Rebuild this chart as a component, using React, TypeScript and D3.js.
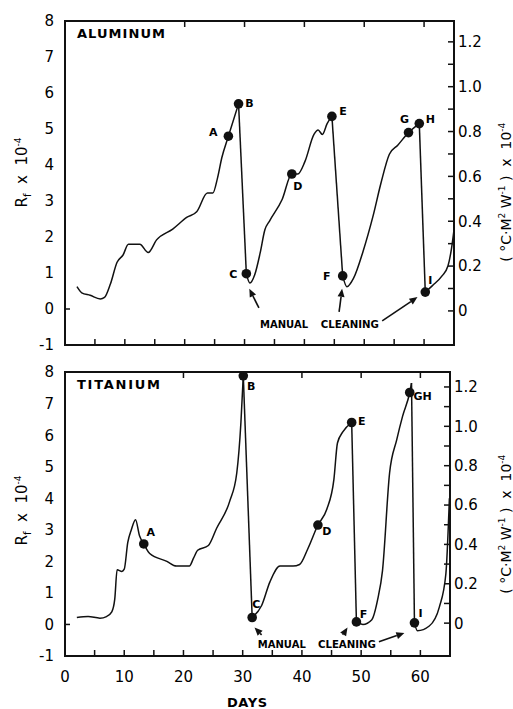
import React from "react";
import * as d3 from "d3";

// aluminum run (days, Rf x 1e-4)
const alDays = [2.0, 2.8, 4.2, 5.9, 6.6, 7.6, 8.7, 9.7, 10.6, 12.5, 13.9, 15.3, 18.0, 20.4, 22.0, 23.8, 24.7, 25.5, 26.2, 27.3, 29.0,
  30.3, 30.9, 31.7, 32.6, 33.4, 34.2, 36.3, 37.9, 38.9, 40.1, 41.6, 42.3, 43.0, 43.8, 44.6,
  46.4, 47.1, 48.2, 49.8, 51.5, 52.8, 54.2, 55.6, 57.4, 59.2,
  60.2, 61.4, 63.0, 64.0, 64.6, 65.0];
const alValues = [0.62, 0.45, 0.38, 0.28, 0.32, 0.7, 1.3, 1.5, 1.8, 1.8, 1.57, 1.92, 2.22, 2.55, 2.7, 3.22, 3.22, 3.65, 4.2, 4.8, 5.7,
  0.98, 0.72, 0.95, 1.55, 2.2, 2.45, 3.05, 3.75, 3.75, 4.1, 4.85, 4.97, 4.85, 5.15, 5.35,
  0.92, 0.62, 0.85, 1.6, 2.6, 3.5, 4.3, 4.55, 4.9, 5.15,
  0.47, 0.65, 0.92, 1.2, 1.7, 2.2];
// index of the point where a cleaning drop starts
const alDrops = [20, 35, 45];
const alMarkLabels = ["A", "B", "C", "D", "E", "F", "G", "H", "I"];
const alMarkDays = [27.3, 29.0, 30.3, 37.9, 44.6, 46.4, 57.4, 59.2, 60.2];
const alMarkValues = [4.8, 5.7, 0.98, 3.75, 5.35, 0.92, 4.9, 5.15, 0.47];

// titanium run
const tiDays = [2.0, 3.9, 5.9, 7.0, 7.9, 8.4, 8.8, 9.6, 10.0, 10.6, 11.2, 11.9, 12.6, 13.3, 14.3, 17.2, 18.8, 21.0, 21.7, 22.4, 24.2, 25.6, 27.8, 29.0, 29.7, 30.1,
  31.6, 33.2, 34.6, 36.3, 38.5, 39.6, 41.0, 42.7, 44.2, 45.4, 46.0, 46.9, 48.4,
  49.2, 50.3, 51.8, 52.8, 53.6, 54.8, 56.0, 57.0, 58.2, 58.5,
  59.0, 59.5, 61.5, 63.2, 64.3, 64.9];
const tiValues = [0.22, 0.25, 0.2, 0.25, 0.4, 0.8, 1.73, 1.68, 1.75, 2.6, 3.0, 3.32, 2.8, 2.55, 2.25, 2.0, 1.85, 1.85, 2.1, 2.35, 2.5, 3.05, 3.9, 4.8, 6.4, 7.88,
  0.22, 0.6, 1.35, 1.85, 1.85, 1.9, 2.4, 3.15, 3.65, 4.6, 5.75, 6.1, 6.4,
  0.08, 0.0, 0.15, 0.8, 1.7, 4.8, 5.85, 6.6, 7.35, 7.65,
  0.05, -0.2, -0.05, 0.55, 1.6, 4.0];
const tiDrops = [25, 38, 48];
const tiMarkLabels = ["A", "B", "C", "D", "E", "F", "GH", "I"];
const tiMarkDays = [13.3, 30.1, 31.6, 42.7, 48.4, 49.2, 58.2, 59.0];
const tiMarkValues = [2.55, 7.88, 0.22, 3.15, 6.4, 0.08, 7.35, 0.05];

// cleaning arrows [day, value]
const alArrowFrom = [[32.4, 0.03], [45.8, -0.08], [53.0, -0.33]];
const alArrowTo = [[30.8, 0.56], [46.3, 0.56], [58.9, 0.33]];
const tiArrowFrom = [[33.2, -0.33], [46.9, -0.33], [53.0, -0.55]];
const tiArrowTo = [[32.0, -0.1], [47.7, -0.1], [57.3, -0.27]];

const leftTicks = [8, 7, 6, 5, 4, 3, 2, 1, 0, -1];
const rightTickLabels = ["1.2", "1.0", "0.8", "0.6", "0.4", "0.2", "0"];
const rightMinor = d3.range(0, 13).map((i) => i / 10);
const dayTicks = [0, 10, 20, 30, 40, 50, 60];
const dayMinor = d3.range(5, 65, 5);
const dayTop = [20, 30, 40, 50, 60];

const FONT = "DejaVu Sans";
const SP = "\u00a0";

const alOffsets: Record<string, [number, number]> = {
  A: [-15, -4], B: [11, -1], C: [-13, 0], D: [6, 12], E: [11, -5],
  F: [-16, 0], G: [-4, -13], H: [11, -4], I: [5, -12],
};
const tiOffsets: Record<string, [number, number]> = {
  A: [7, -12], B: [8, 10], C: [4, -13], D: [9, 6], E: [10, -1],
  F: [7, -8], GH: [13, 4], I: [6, -10],
};

type PanelProps = {
  title: string;
  days: number[];
  values: number[];
  drops: number[];
  markLabels: string[];
  markDays: number[];
  markValues: number[];
  offsets: Record<string, [number, number]>;
  arrowFrom: number[][];
  arrowTo: number[][];
  noteValue: number;
  rightDomain: [number, number];
  box: { left: number; right: number; top: number; bottom: number };
  rightLabelY: number;
  leftLabelY: number;
  showDays: boolean;
};

const Sup = ({ t, size = 9 }: { t: string; size?: number }) => (
  <>
    <tspan dy={-6} fontSize={size}>{t}</tspan>
    <tspan dy={6}>{SP}</tspan>
  </>
);

const Panel = (p: PanelProps) => {
  const { box } = p;
  const x = d3.scaleLinear().domain([0, 65]).range([box.left, box.right]);
  const y = d3.scaleLinear().domain([-1, 8]).range([box.bottom, box.top]);
  const yr = d3.scaleLinear().domain(p.rightDomain).range([box.bottom, box.top]);

  const line = d3.line<number>()
    .x((i) => x(p.days[i]))
    .y((i) => y(p.values[i]))
    .curve(d3.curveMonotoneX);

  // split into fouling runs and straight cleaning drops
  const runs: number[][] = [];
  const straight: number[][] = [];
  let start = 0;
  p.drops.forEach((d) => {
    runs.push(d3.range(start, d + 1));
    straight.push([d, d + 1]);
    start = d + 1;
  });
  runs.push(d3.range(start, p.days.length));

  const notes = (
    <>
      <text x={x(36.6)} y={y(p.noteValue)} textAnchor="middle" fontWeight="bold" fontSize={11}
        textLength={48} lengthAdjust="spacingAndGlyphs">MANUAL</text>
      <text x={x(47.6)} y={y(p.noteValue)} textAnchor="middle" fontWeight="bold" fontSize={11}
        textLength={58} lengthAdjust="spacingAndGlyphs">CLEANING</text>
    </>
  );

  return (
    <g fontFamily={FONT}>
      {runs.map((r, i) => (
        <path key={"r" + i} d={line(r) || ""} fill="none" stroke="#111" strokeWidth={1.5} />
      ))}
      {straight.map((s, i) => (
        <line key={"s" + i} x1={x(p.days[s[0]])} y1={y(p.values[s[0]])} x2={x(p.days[s[1]])} y2={y(p.values[s[1]])}
          stroke="#111" strokeWidth={1.5} />
      ))}
      {p.markLabels.map((l, i) => {
        const cx = x(p.markDays[i]);
        const cy = y(p.markValues[i]);
        const o = p.offsets[l];
        return (
          <g key={"m" + l}>
            <circle cx={cx} cy={cy} r={4.8} fill="#111" />
            <text x={cx + o[0]} y={cy + o[1]} dy="0.35em" textAnchor="middle" fontSize={11} fontWeight="bold">{l}</text>
          </g>
        );
      })}
      {p.arrowFrom.map((f, i) => {
        const x1 = x(f[0]), y1 = y(f[1]);
        const x2 = x(p.arrowTo[i][0]), y2 = y(p.arrowTo[i][1]);
        const a = Math.atan2(y2 - y1, x2 - x1);
        const L = 8, W = 3.5;
        const bx = x2 - L * Math.cos(a), by = y2 - L * Math.sin(a);
        const pts = [
          [x2, y2],
          [bx + W * Math.sin(a), by - W * Math.cos(a)],
          [bx - W * Math.sin(a), by + W * Math.cos(a)],
        ].map((q) => q.join(",")).join(" ");
        return (
          <g key={"a" + i}>
            <line x1={x1} y1={y1} x2={bx} y2={by} stroke="#111" strokeWidth={1.6} />
            <polygon points={pts} fill="#111" />
          </g>
        );
      })}
      {notes}
      {/* frame */}
      <rect x={box.left} y={box.top} width={box.right - box.left} height={box.bottom - box.top}
        fill="none" stroke="#111" strokeWidth={2} />
      {dayMinor.map((d) => (
        <line key={"bt" + d} x1={x(d)} x2={x(d)} y1={box.bottom} y2={box.bottom - 6} stroke="#111" strokeWidth={1.5} />
      ))}
      {dayTop.map((d) => (
        <line key={"tt" + d} x1={x(d)} x2={x(d)} y1={box.top} y2={box.top + 6} stroke="#111" strokeWidth={1.5} />
      ))}
      <line x1={box.left} x2={box.left + 5} y1={y(0)} y2={y(0)} stroke="#111" strokeWidth={1.5} />
      {rightMinor.map((v) => (
        <line key={"rt" + v} x1={box.right} x2={box.right - 6} y1={yr(v)} y2={yr(v)} stroke="#111" strokeWidth={1.5} />
      ))}
      {leftTicks.map((v) => (
        <text key={"lt" + v} x={54} y={y(v)} dy="0.36em" textAnchor="end" fontSize={15}>{v}</text>
      ))}
      {rightTickLabels.map((t) => (
        <text key={"rl" + t} x={box.right + 4} y={yr(+t)} dy="0.36em" fontSize={15}>{t}</text>
      ))}
      {p.showDays && dayTicks.map((d) => (
        <text key={"dl" + d} x={x(d)} y={box.bottom + 26} textAnchor="middle" fontSize={15}>{d}</text>
      ))}
      <text x={box.left + 12} y={box.top + 17} fontSize={13} fontWeight={600} textLength={p.title === "ALUMINUM" ? 88 : 83}
        lengthAdjust="spacing">{p.title}</text>
      <text transform={`translate(27,${p.leftLabelY}) rotate(-90)`} textAnchor="middle" fontSize={15}>
        R<tspan dy={4} fontSize={10}>f</tspan><tspan dy={-4}>{SP + SP + "x" + SP + SP + "10"}</tspan><Sup t="-4" />
      </text>
      <text transform={`translate(511,${p.rightLabelY}) rotate(-90)`} textAnchor="middle" fontSize={14}>
        {"(" + SP + "°C·M"}<Sup t="2" />W<Sup t="-1" />{")" + SP + SP + "x" + SP + SP + "10"}<Sup t="-4" />
      </text>
    </g>
  );
};

export default function App() {
  return (
    <svg width={513} height={709} style={{ position: "absolute", left: 0, top: 0, background: "#fff" }}>
      <Panel title="ALUMINUM" days={alDays} values={alValues} drops={alDrops}
        markLabels={alMarkLabels} markDays={alMarkDays} markValues={alMarkValues} offsets={alOffsets}
        arrowFrom={alArrowFrom} arrowTo={alArrowTo} noteValue={-0.52}
        rightDomain={[-0.152, 1.293]} box={{ left: 65, right: 454, top: 21, bottom: 345 }}
        rightLabelY={190} leftLabelY={170} showDays={false} />
      <Panel title="TITANIUM" days={tiDays} values={tiValues} drops={tiDrops}
        markLabels={tiMarkLabels} markDays={tiMarkDays} markValues={tiMarkValues} offsets={tiOffsets}
        arrowFrom={tiArrowFrom} arrowTo={tiArrowTo} noteValue={-0.75}
        rightDomain={[-0.167, 1.276]} box={{ left: 65, right: 450, top: 372, bottom: 656 }}
        rightLabelY={522} leftLabelY={508} showDays={true} />
      <text x={247} y={707} textAnchor="middle" fontFamily={FONT} fontSize={13} fontWeight={600} textLength={40}
        lengthAdjust="spacing">DAYS</text>
    </svg>
  );
}
